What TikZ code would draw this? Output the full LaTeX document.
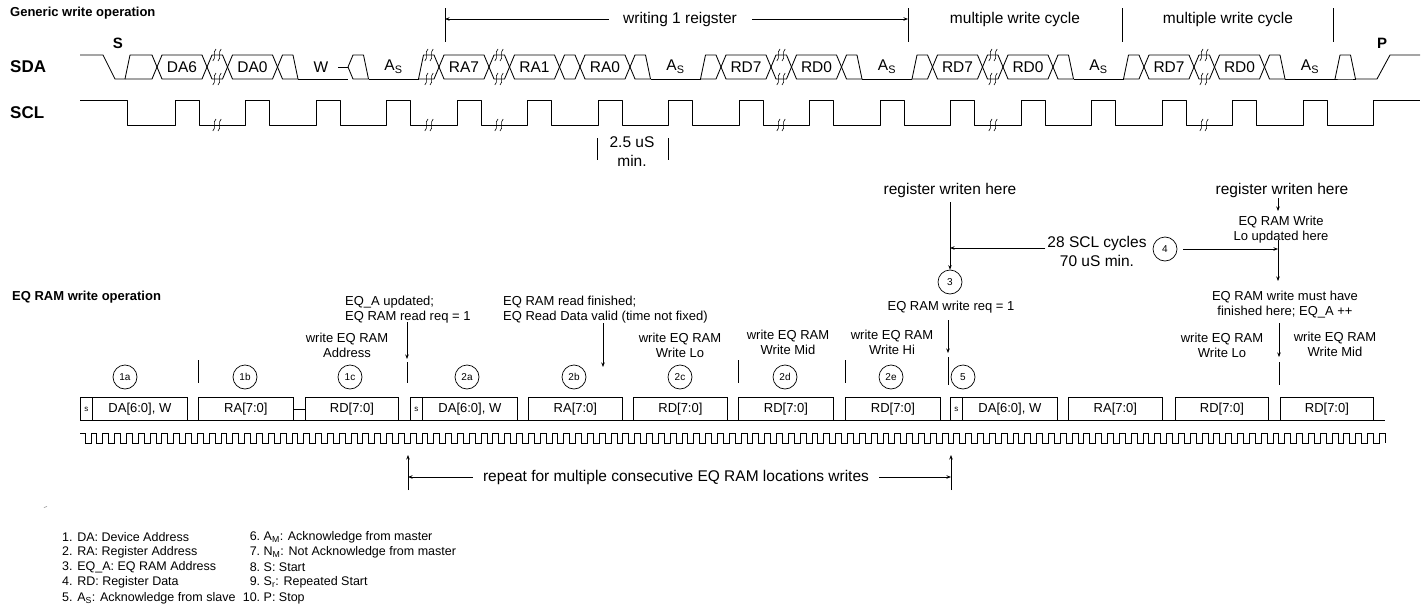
\documentclass[tikz,border=0pt]{standalone}
\usepackage{fontspec}
\setmainfont{Liberation Sans}
\usetikzlibrary{arrows.meta}
\newcommand\sdahex[4]{%
  \ifnum#3=1 \def\hexly{79}\else\def\hexly{67}\fi
  \ifnum#4=1 \def\hexry{79}\else\def\hexry{67}\fi
  \draw[wave] (#1,\hexly) -- ({#1+5},55) -- ({#2-5},55) -- (#2,\hexry);
  \draw[wave] (#1,\hexly) -- ({#1+5},79) -- ({#2-5},79) -- (#2,\hexry);
}
\newcommand\brkmark[2]{%
  \foreach \bd in {-2.6,2.6}{
    \draw[line width=0.6pt] ({#1+\bd+1.6},{#2-6}) .. controls ({#1+\bd-2.4},{#2-2.5}) and ({#1+\bd+2.4},{#2+2.5}) .. ({#1+\bd-1.6},{#2+6});
  }}
\tikzset{
 wave/.style={line width=0.85pt, line join=round},
 clk/.style={line width=0.7pt},
 arr/.style={line width=0.7pt, -{Stealth[length=4.5pt,width=3.5pt]}},
 ln/.style={line width=0.7pt},
 tx/.style={inner sep=0pt, font=\fontsize{13}{15}\selectfont, align=center},
 txl/.style={inner sep=0pt, font=\fontsize{13}{15}\selectfont, align=left, anchor=west},
 big/.style={inner sep=0pt, font=\fontsize{15.5}{19}\selectfont, align=center},
 ttl/.style={inner sep=0pt, font=\bfseries\fontsize{13}{15}\selectfont, anchor=west},
 sig/.style={inner sep=0pt, font=\bfseries\fontsize{17}{19}\selectfont, anchor=west},
 sp/.style={inner sep=0pt, font=\bfseries\fontsize{15}{17}\selectfont},
 dlab/.style={inner sep=0pt, font=\fontsize{15.5}{17}\selectfont},
 num/.style={circle, draw, line width=0.7pt, minimum size=24pt, inner sep=0pt, font=\fontsize{10}{12}\selectfont},
 bx/.style={draw, line width=0.8pt, minimum height=23pt, inner sep=0pt, anchor=north west, font=\fontsize{13}{15}\selectfont},
 leg/.style={inner sep=0pt, anchor=west, font=\fontsize{12.5}{15}\selectfont},
}
\begin{document}
\begin{tikzpicture}[x=1pt,y=-1pt]
\useasboundingbox (0,0) rectangle (1428,608);
\fill[white] (0,0) rectangle (1428,608);

% ---------- titles ----------
\node[ttl] (gtitle) at (10,13) {Generic write operation};
\node[sig] (sdal) at (10,67) {SDA};
\node[sig] (scll) at (10,113) {SCL};
\node[sp] (sS) at (118,43) {S};
\node[sp] (sP) at (1382,43) {P};

% ---------- SDA ----------
\draw[wave] (80,55) -- (103,55) -- (115,79) -- (125,79);
\foreach \p/\q/\a/\b in {125/157/1/0, 157/207/0/0, 207/227.5/0/0, 227.5/277.5/0/0, 277.5/298/0/1,
  348/368.5/0/1, 418.5/439/1/0, 439/489/0/0, 489/509.5/0/0, 509.5/559.5/0/0, 559.5/580/0/0,
  580/630/0/0, 630/650.5/0/1, 700.5/721/1/0, 721/771/0/0, 771/791.5/0/0, 791.5/841.5/0/0,
  841.5/862/0/1, 912/932.5/1/0, 932.5/982.5/0/0, 982.5/1003/0/0, 1003/1053/0/0, 1053/1073.5/0/1,
  1123.5/1144/1/0, 1144/1194/0/0, 1194/1214.5/0/0, 1214.5/1264.5/0/0, 1264.5/1285/0/1, 1335/1355.5/1/1}
  {\sdahex{\p}{\q}{\a}{\b}}
\foreach \p/\q in {298/348, 368.5/418.5, 650.5/700.5, 862/912, 1073.5/1123.5, 1285/1335}
  {\draw[wave] (\p,79) -- (\q,79);}
\draw[wave] (1355.5,79) -- (1377,79) -- (1390,55) -- (1420,55);
\draw[wave] (338,67) -- (348,67);
\foreach \i/\x/\t in {1/182/DA6, 2/252.5/DA0, 3/321/W, 4/393.5/{A\textsubscript{S}}, 5/464/RA7, 6/534.5/RA1,
  7/605/RA0, 8/675.5/{A\textsubscript{S}}, 9/746/RD7, 10/816.5/RD0, 11/887/{A\textsubscript{S}},
  12/957.5/RD7, 13/1028/RD0, 14/1098.5/{A\textsubscript{S}}, 15/1169/RD7, 16/1239.5/RD0, 17/1310/{A\textsubscript{S}}}
  {\node[dlab] (sd\i) at (\x,67) {\t};}

% ---------- SCL ----------
\draw[wave] (80,100) -- (127,100) -- (127,125)
  \foreach \k in {0,...,16} { -- ({175+70.5*\k},125) -- ++(0,-25) -- ++(24,0) -- ++(0,25) }
  -- (1373.5,125) -- (1373.5,100) -- (1420,100);

% break marks
\foreach \x in {217,429,499,781,993,1204} {\brkmark{\x}{55}\brkmark{\x}{79}\brkmark{\x}{125}}

% ---------- top annotations ----------
\node[big] (w1) at (680,19) {writing 1 reigster};
\node[big] (m1) at (1015,19) {multiple write cycle};
\node[big] (m2) at (1228,19) {multiple write cycle};
\coordinate (v1) at (445,8);
\coordinate (v2) at (908,8);
\coordinate (v3) at (1122,8);
\coordinate (v4) at (1333,8);
\foreach \v in {v1,v2,v3,v4} {\draw[ln] (\v) -- ++(0,34);}
\draw[arr] ([xshift=-14pt]w1.west) -- (w1.west -| v1);
\draw[arr] ([xshift=15pt]w1.east) -- (w1.east -| v2);

\node[big] (t25) at (632,152) {2.5 uS\\min.};
\draw[ln] (597,138) -- (597,160);
\draw[ln] (668,138) -- (668,160);

% ---------- middle annotations ----------
\node[big] (reg1) at (950,190) {register writen here};
\node[num] (c3) at (950,282) {3};
\draw[arr] ([yshift=-5pt]reg1.south) -- (c3.north);
\node[big] (cyc) at (1097,251) {28 SCL cycles\\70 uS min.};
\node[num] (c4) at (1165,249) {4};
\coordinate (a4l) at (950,248);
\coordinate (a4r) at (1278,248);
\draw[arr] ([xshift=-2pt]cyc.west |- a4l) -- (a4l);
\draw[arr] ([xshift=6pt]c4.east) -- (c4.east -| a4r);

\node[big] (reg2) at (1282,190) {register writen here};
\node[tx] (lo) at (1281,230) {EQ RAM Write\\Lo updated here};
\draw[arr] (1278,198) -- (1278,211);
\coordinate (lotop) at (1278,240);
\coordinate (lobot) at (1278,281);
\draw[arr] (lotop) -- (lobot);
\node[tx] (must) at (1285,305) {EQ RAM write must have\\finished here; EQ\_A ++};
\coordinate (t5) at (1279,357);
\draw[arr] (1279,323) -- (t5);
\draw[ln] (1279,362) -- (1279,385);
\node[tx] (wlo2) at (1222,345.5) {write EQ RAM\\Write Lo};
\node[tx] (wmid2) at (1335,344) {write EQ RAM\\Write Mid};

\node[ttl] (etitle) at (12,297) {EQ RAM write operation};
\node[txl] (eqa) at (345,309.5) {EQ\_A updated;\\EQ RAM read req = 1};
\node[tx] (wadr) at (347,345.5) {write EQ RAM\\Address};
\coordinate (t1) at (407,359);
\draw[arr] (407,322) -- (t1);
\draw[ln] (407,362) -- (407,383);
\node[txl] (rdf) at (503,309.5) {EQ RAM read finished;\\EQ Read Data valid (time not fixed)};
\coordinate (t2) at (603,367);
\draw[arr] (603,323) -- (t2);
\node[tx] (wlo1) at (680,345.5) {write EQ RAM\\Write Lo};
\node[tx] (wmid1) at (788,342.5) {write EQ RAM\\Write Mid};
\node[tx] (whi1) at (892,342.5) {write EQ RAM\\Write Hi};
\node[tx] (req) at (951,307) {EQ RAM write req = 1};
\coordinate (t3) at (948,353);
\draw[arr] (948,320) -- (t3);
\draw[ln] (948,357) -- (948,385);

\foreach \n/\x in {1a/125, 1b/245, 1c/350, 2a/467, 2b/574, 2c/680, 2d/785, 2e/891, 5/963}
  {\node[num] (c\n) at (\x,377) {\n};}
\foreach \x in {198,738,845} {\draw[ln] (\x,360) -- (\x,383);}

% ---------- byte boxes ----------
\foreach \nm/\xa/\xb in {s1/80/92, s2/410/422, s3/950/962}
  {\node[bx, minimum width={\xb-\xa}, font=\fontsize{8}{9}\selectfont] (\nm) at (\xa,397) {s};}
\foreach \nm/\xa/\xb/\t in {b1/92/187/{DA[6:0], W}, b2/198/293/{RA[7:0]}, b3/305/398/{RD[7:0]},
  b4/422/517/{DA[6:0], W}, b5/528/622/{RA[7:0]}, b6/633/727/{RD[7:0]}, b7/738/833/{RD[7:0]},
  b8/845/940/{RD[7:0]}, b9/962/1057/{DA[6:0], W}, b10/1068/1162/{RA[7:0]}, b11/1175/1268/{RD[7:0]},
  b12/1280/1373/{RD[7:0]}}
  {\node[bx, minimum width={\xb-\xa}] (\nm) at (\xa,397) {\t};}
\draw[ln] (b2.east) -- (b3.west);
\draw[wave] (80,420) -- (1385,420);

% clock
\draw[clk] (80,433) -- (85,433) -- (85,443)
  \foreach \n in {1,...,110} { -- ++(5.91,0) -- ++(0,-10) -- ++(5.91,0) -- ++(0,10) };

% ---------- repeat arrows ----------
\node[big] (rep) at (676,477) {repeat for multiple consecutive EQ RAM locations writes};
\coordinate (r1t) at (408,455);
\coordinate (r1b) at (408,490);
\coordinate (r2t) at (951,455);
\coordinate (r2b) at (951,490);
\draw[arr] (r1b) -- (r1t);
\draw[arr] (r2b) -- (r2t);
\draw[arr] ([xshift=-10pt]rep.west) -- (rep.west -| r1t);
\draw[arr] ([xshift=10pt]rep.east) -- (rep.east -| r2t);

% ---------- legend ----------
\draw[line width=0.5pt, gray] (44,507.5) -- (47,506.5);
\node[leg] (l1) at (62,537) {1. DA: Device Address};
\node[leg] (l2) at (62,552) {2. RA: Register Address};
\node[leg] (l3) at (62,567) {3. EQ\_A: EQ RAM Address};
\node[leg] (l4) at (62,582) {4. RD: Register Data};
\node[leg] (l5) at (62,598) {5. A\textsubscript{S}: Acknowledge from slave};
\node[leg] (l6) at (242,537) {\makebox[18pt][r]{6.} A\textsubscript{M}: Acknowledge from master};
\node[leg] (l7) at (242,552) {\makebox[18pt][r]{7.} N\textsubscript{M}: Not Acknowledge from master};
\node[leg] (l8) at (242,567) {\makebox[18pt][r]{8.} S: Start};
\node[leg] (l9) at (242,582) {\makebox[18pt][r]{9.} S\textsubscript{r}: Repeated Start};
\node[leg] (l10) at (242,598) {\makebox[18pt][r]{10.} P: Stop};
\end{tikzpicture}
\end{document}
